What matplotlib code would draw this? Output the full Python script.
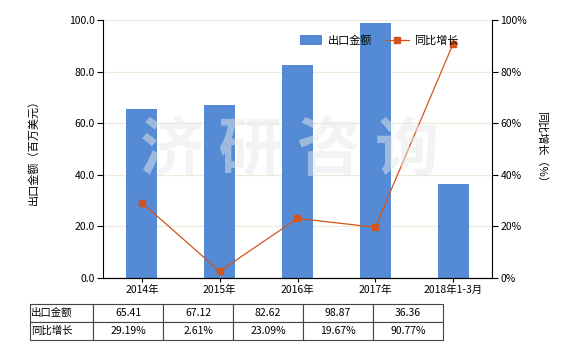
import matplotlib
matplotlib.use("Agg")
import matplotlib.pyplot as plt
import numpy as np

plt.rcParams['font.family'] = ['Noto Sans CJK SC', 'DejaVu Sans']

categories = ['2014年', '2015年', '2016年', '2017年', '2018年1-3月']
export_value = [65.41, 67.12, 82.62, 98.87, 36.36]
growth_pct = [29.19, 2.61, 23.09, 19.67, 90.77]
value_labels = ['65.41', '67.12', '82.62', '98.87', '36.36']
growth_labels = ['29.19%', '2.61%', '23.09%', '19.67%', '90.77%']

bar_color = '#558bd5'
line_color = '#d2541c'

fig = plt.figure(figsize=(5.8, 3.5), dpi=100)
ax = fig.add_axes([103/580, 1 - 278/350, (492 - 103)/580, (278 - 20)/350])
x = np.arange(len(categories))

bars = ax.bar(x, export_value, width=0.4, color=bar_color, label='出口金额', zorder=2)
ax.set_xlim(-0.5, len(categories) - 0.5)
ax.set_ylim(0, 100)
ax.set_yticks(np.arange(0, 101, 20))
ax.set_yticklabels([f'{v:.1f}' for v in np.arange(0, 101, 20)], fontsize=7.5)
ax.set_xticks(x)
ax.set_xticklabels(categories, fontsize=7.5)
ax.tick_params(axis='x', length=3, pad=2)
ax.tick_params(axis='y', length=4, pad=2)
ax.grid(axis='y', color='#ecebd9', linewidth=0.8, zorder=0)
ax.set_ylabel('出口金额（百万美元）', fontsize=8, labelpad=22)
for s in ['top', 'right']:
    ax.spines[s].set_visible(False)

ax2 = ax.twinx()
ln, = ax2.plot(x, growth_pct, color=line_color, marker='s', markersize=5,
               linewidth=0.9, label='同比增长', zorder=3)
ax2.set_ylim(0, 100)
ax2.set_yticks(np.arange(0, 101, 20))
ax2.set_yticklabels([f'{v}%' for v in range(0, 101, 20)], fontsize=7.5)
ax2.tick_params(axis='y', length=4, pad=2)
ax2.set_ylabel('同比增长（%）', fontsize=8, rotation=-90, labelpad=14)
ax2.spines['top'].set_visible(False)
ax2.spines['left'].set_visible(False)

# watermark
fig.text(0.5, 0.57, '济 研 咨 询', fontsize=46, fontweight='bold', color='#e8e8e8',
         alpha=0.5, ha='center', va='center', zorder=10)

ax2.legend([bars, ln], ['出口金额', '同比增长'], loc='upper right', bbox_to_anchor=(0.94, 0.98),
           ncol=2, frameon=False, fontsize=8, handlelength=2.0, handleheight=1.0,
           columnspacing=1.3, handletextpad=0.5)

# data table under the chart
tax = fig.add_axes([30/580, 1 - 340/350, (443 - 30)/580, (340 - 304)/350])
tax.axis('off')
cells = [['出口金额'] + value_labels, ['同比增长'] + growth_labels]
first_w = (93 - 30) / (443 - 30)
other_w = (1 - first_w) / len(categories)
tbl = tax.table(cellText=cells, bbox=[0, 0, 1, 1],
                colWidths=[first_w] + [other_w] * len(categories), cellLoc='center')
tbl.auto_set_font_size(False)
tbl.set_fontsize(7.5)
for (r, c), cell in tbl.get_celld().items():
    cell.set_edgecolor('#444444')
    cell.set_linewidth(0.8)
    if c == 0:
        cell.set_text_props(ha='left')
        cell.PAD = 0.02

fig.savefig('out.png', dpi=100)
